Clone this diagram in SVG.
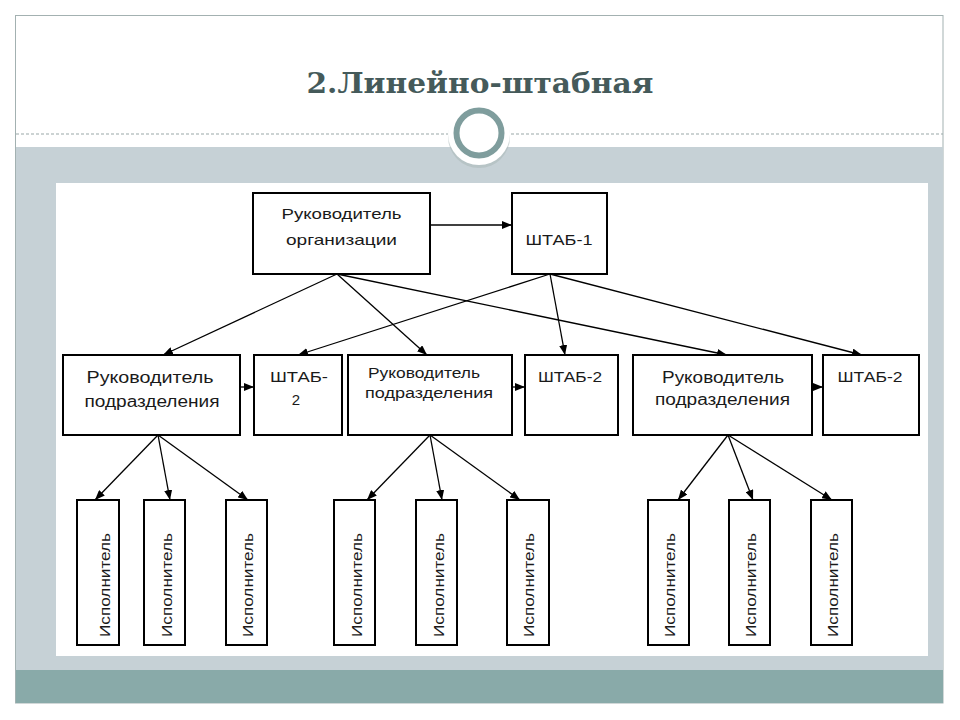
<svg xmlns="http://www.w3.org/2000/svg" width="960" height="720" viewBox="0 0 960 720">
<style>
.box{fill:#fff;stroke:#000;stroke-width:2}
.t{font-family:"Liberation Sans",Arial,sans-serif;fill:#1a1a1a;text-anchor:middle}
.c{stroke:#000;stroke-width:1.3;fill:none;marker-end:url(#ah)}
</style>
<defs>
<marker id="ah" markerUnits="userSpaceOnUse" markerWidth="10" markerHeight="8" refX="10" refY="4" orient="auto">
<path d="M0,0 L10,4 L0,8 z" fill="#000"/>
</marker>
</defs>
<rect x="0" y="0" width="960" height="720" fill="#fff"/>
<rect x="15.5" y="15.5" width="927.5" height="687.5" fill="#fff" stroke="#a3b1b1" stroke-width="1"/>
<rect x="16" y="147" width="927" height="523" fill="#c6d1d6"/>
<rect x="16" y="670" width="927" height="33" fill="#89aaa9"/>
<line x1="16" y1="134" x2="943" y2="134" stroke="#9aa8a8" stroke-width="1.2" stroke-dasharray="3 2"/>
<rect x="56" y="183" width="872" height="473" fill="#fff"/>
<circle cx="479" cy="137" r="31" fill="#aebbbb" opacity="0.6"/>
<circle cx="479" cy="134" r="31" fill="#fff"/>
<circle cx="479" cy="133" r="22.5" fill="#fff" stroke="#7f9d9d" stroke-width="6"/>
<text x="480" y="93" font-family="'DejaVu Serif','Liberation Serif',serif" font-weight="bold" font-size="27" fill="#455a5a" text-anchor="middle" textLength="347" lengthAdjust="spacingAndGlyphs">2.Линейно-штабная</text>

<g id="connectors">
<line class="c" x1="430" y1="225" x2="512" y2="225"/>
<line class="c" x1="337" y1="274" x2="163" y2="355"/>
<line class="c" x1="337" y1="274" x2="427" y2="355"/>
<line class="c" x1="337" y1="274" x2="727" y2="355"/>
<line class="c" x1="550" y1="274" x2="298" y2="355"/>
<line class="c" x1="550" y1="274" x2="565" y2="355"/>
<line class="c" x1="550" y1="274" x2="862" y2="355"/>
<line class="c" x1="240" y1="387" x2="254" y2="387"/>
<line class="c" x1="512" y1="387" x2="525" y2="387"/>
<line class="c" x1="812" y1="387" x2="823" y2="387"/>
<line class="c" x1="158" y1="435" x2="95" y2="500"/>
<line class="c" x1="158" y1="435" x2="170" y2="500"/>
<line class="c" x1="158" y1="435" x2="248" y2="500"/>
<line class="c" x1="430" y1="435" x2="367" y2="500"/>
<line class="c" x1="430" y1="435" x2="442" y2="500"/>
<line class="c" x1="430" y1="435" x2="520" y2="500"/>
<line class="c" x1="728" y1="435" x2="678" y2="500"/>
<line class="c" x1="728" y1="435" x2="753" y2="500"/>
<line class="c" x1="728" y1="435" x2="832" y2="500"/>
</g>

<g id="n-org">
<rect class="box" x="253" y="193" width="177" height="81"/>
<text class="t" x="341.5" y="219" font-size="15" textLength="120" lengthAdjust="spacingAndGlyphs">Руководитель</text>
<text class="t" x="341.5" y="245" font-size="15" textLength="111" lengthAdjust="spacingAndGlyphs">организации</text>
</g>
<g id="n-shtab1">
<rect class="box" x="512" y="193" width="95" height="81"/>
<text class="t" x="559" y="245" font-size="15" textLength="67" lengthAdjust="spacingAndGlyphs">ШТАБ-1</text>
</g>

<g id="n-rp1">
<rect class="box" x="63" y="355" width="177" height="80"/>
<text class="t" x="150" y="383" font-size="16" textLength="127" lengthAdjust="spacingAndGlyphs">Руководитель</text>
<text class="t" x="152" y="407" font-size="16" textLength="135" lengthAdjust="spacingAndGlyphs">подразделения</text>
</g>
<g id="n-sh2a">
<rect class="box" x="254" y="355" width="88" height="80"/>
<text class="t" x="299" y="382" font-size="15" textLength="58" lengthAdjust="spacingAndGlyphs">ШТАБ-</text>
<text class="t" x="296" y="405" font-size="15">2</text>
</g>
<g id="n-rp2">
<rect class="box" x="348" y="355" width="164" height="80"/>
<text class="t" x="424" y="378" font-size="14" textLength="112" lengthAdjust="spacingAndGlyphs">Руководитель</text>
<text class="t" x="429" y="398" font-size="14" textLength="128" lengthAdjust="spacingAndGlyphs">подразделения</text>
</g>
<g id="n-sh2b">
<rect class="box" x="525" y="355" width="93" height="80"/>
<text class="t" x="570" y="382" font-size="15" textLength="64" lengthAdjust="spacingAndGlyphs">ШТАБ-2</text>
</g>
<g id="n-rp3">
<rect class="box" x="633" y="355" width="179" height="80"/>
<text class="t" x="723" y="383" font-size="16" textLength="122" lengthAdjust="spacingAndGlyphs">Руководитель</text>
<text class="t" x="722.5" y="405" font-size="16" textLength="135" lengthAdjust="spacingAndGlyphs">подразделения</text>
</g>
<g id="n-sh2c">
<rect class="box" x="823" y="355" width="96" height="80"/>
<text class="t" x="870" y="382" font-size="15" textLength="65" lengthAdjust="spacingAndGlyphs">ШТАБ-2</text>
</g>

<g id="n-e1"><rect class="box" x="77" y="500" width="42" height="145"/><text class="t" font-size="15" transform="translate(110,585) rotate(-90)" textLength="104" lengthAdjust="spacingAndGlyphs">Исполнитель</text></g>
<g id="n-e2"><rect class="box" x="144" y="500" width="41" height="145"/><text class="t" font-size="15" transform="translate(172,585) rotate(-90)" textLength="104" lengthAdjust="spacingAndGlyphs">Исполнитель</text></g>
<g id="n-e3"><rect class="box" x="226" y="500" width="41" height="145"/><text class="t" font-size="15" transform="translate(253,585) rotate(-90)" textLength="104" lengthAdjust="spacingAndGlyphs">Исполнитель</text></g>
<g id="n-e4"><rect class="box" x="334" y="500" width="41" height="145"/><text class="t" font-size="15" transform="translate(362,585) rotate(-90)" textLength="104" lengthAdjust="spacingAndGlyphs">Исполнитель</text></g>
<g id="n-e5"><rect class="box" x="416" y="500" width="41" height="145"/><text class="t" font-size="15" transform="translate(444,585) rotate(-90)" textLength="104" lengthAdjust="spacingAndGlyphs">Исполнитель</text></g>
<g id="n-e6"><rect class="box" x="507" y="500" width="42" height="145"/><text class="t" font-size="15" transform="translate(534,585) rotate(-90)" textLength="104" lengthAdjust="spacingAndGlyphs">Исполнитель</text></g>
<g id="n-e7"><rect class="box" x="648" y="500" width="41" height="145"/><text class="t" font-size="15" transform="translate(675,585) rotate(-90)" textLength="104" lengthAdjust="spacingAndGlyphs">Исполнитель</text></g>
<g id="n-e8"><rect class="box" x="729" y="500" width="41" height="145"/><text class="t" font-size="15" transform="translate(756,585) rotate(-90)" textLength="104" lengthAdjust="spacingAndGlyphs">Исполнитель</text></g>
<g id="n-e9"><rect class="box" x="811" y="500" width="41" height="145"/><text class="t" font-size="15" transform="translate(838,585) rotate(-90)" textLength="104" lengthAdjust="spacingAndGlyphs">Исполнитель</text></g>
</svg>
